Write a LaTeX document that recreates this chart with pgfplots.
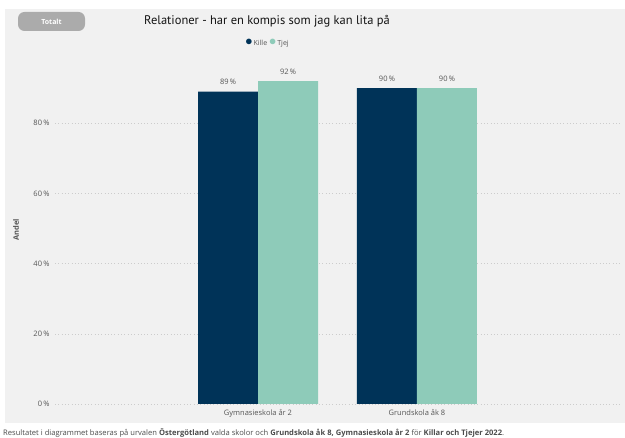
\documentclass[border=0pt]{standalone}
\usepackage{pgfplots}
\pgfplotsset{compat=1.18}
\usepackage{fontspec}
\setmainfont{Open Sans}
\newfontfamily\titlefont{PT Sans}
\definecolor{kille}{RGB}{0,51,88}
\definecolor{tjej}{RGB}{142,203,185}
\definecolor{panel}{RGB}{241,241,241}
\definecolor{txt}{RGB}{85,85,85}
\begin{document}
\begin{tikzpicture}[x=1pt,y=1pt]
\path[use as bounding box] (0,0) rectangle (625,438);
\fill[white] (0,0) rectangle (625,438);
\fill[panel] (5,15) rectangle (625,429);
\fill[black!33, rounded corners=6.5pt] (18,407) rectangle (85,426);
\node[white, font=\bfseries\fontsize{7}{8}\selectfont] at (51.5,416.5) {Totalt};
\node[font=\titlefont\fontsize{12.5}{14}\selectfont, text=black!92] at (267,417) {Relationer - har en kompis som jag kan lita på};
\node[font=\fontsize{7}{8}\selectfont, text=txt, inner sep=0pt] at (267,395) {\textcolor{kille}{\Large\raisebox{-0.5pt}{$\bullet$}}\,Kille \textcolor{tjej}{\Large\raisebox{-0.5pt}{$\bullet$}}\,Tjej};
\node[rotate=90, font=\bfseries\fontsize{7.5}{8}\selectfont, text=txt] at (16,208) {Andel};
\begin{axis}[
  at={(55pt,34pt)}, anchor=south west,
  scale only axis, width=565pt, height=351pt,
  xmin=-1.277, xmax=2.277, ymin=0, ymax=100,
  ybar=0pt, bar width=60pt,
  axis line style={draw=none},
  tick style={draw=none},
  xtick={0,1}, xticklabels={Gymnasieskola år 2, Grundskola åk 8},
  ytick={0,20,40,60,80},
  yticklabel={\pgfmathprintnumber{\tick}\,\%},
  /pgf/number format/assume math mode=true,
  ymajorgrids, grid style={black!20, line width=0.5pt, dash pattern=on 0.8pt off 2.5pt},
  ticklabel style={font=\fontsize{7.5}{8}\selectfont, text=txt},
  xticklabel style={yshift=2pt},
  yticklabel style={xshift=-2pt},
  nodes near coords={\pgfmathprintnumber{\pgfplotspointmeta}\,\%},
  nodes near coords style={font=\fontsize{7.5}{8}\selectfont, text=txt, yshift=3pt},
]
\addplot[fill=kille, draw=none] coordinates {(0,89) (1,90)};
\addplot[fill=tjej, draw=none] coordinates {(0,92) (1,90)};
\end{axis}
\node[anchor=west, font=\fontsize{7.6}{8}\selectfont, text=black!70, inner sep=0pt] at (3,5) {Resultatet i diagrammet baseras på urvalen \textbf{Östergötland} valda skolor och \textbf{Grundskola åk 8, Gymnasieskola år 2} för \textbf{Killar och Tjejer 2022}.};
\end{tikzpicture}
\end{document}
